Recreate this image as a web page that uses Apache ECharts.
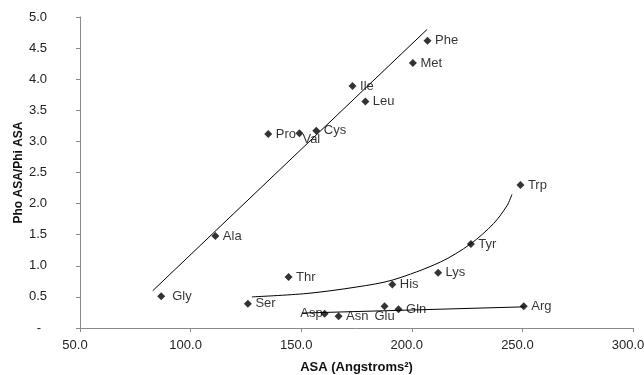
<!DOCTYPE html>
<html>
<head>
<meta charset="utf-8">
<script src="https://cdn.jsdelivr.net/npm/echarts@6/dist/echarts.min.js"></script>
<style>
html,body{margin:0;padding:0;background:#fff;}
#chart{width:644px;height:375px;}
</style>
</head>
<body>
<div id="chart"></div>
<script>
// ---- data ----
const aminoAcids = ['Gly','Ala','Ser','Pro','Thr','Val','Cys','Asp','Asn','Ile','Leu','Glu','His','Gln','Met','Lys','Phe','Tyr','Arg','Trp'];
const asaValues  = [86.7,111.2,125.9,135.1,144.3,149.2,156.8,160.6,166.9,173.2,179.0,187.7,191.2,194.0,200.5,211.9,207.1,226.7,250.6,249.1];
const ratioValues= [0.51,1.48,0.39,3.12,0.82,3.13,3.17,0.23,0.19,3.89,3.64,0.35,0.70,0.30,4.26,0.89,4.62,1.35,0.35,2.30];

// linear trend (hydrophobic group)
const trend1X = [82.9, 206.9];
const trend1Y = [0.60, 4.80];
// curved trend (Ser/Thr/His/Lys/Tyr/Trp group)
const trend2X = [127.7,152.6,175.2,191.2,212.9,226.5,237.0,243.1,245.3];
const trend2Y = [0.50,0.555,0.66,0.77,1.06,1.35,1.68,1.97,2.15];
// flat trend (charged/polar group)
const trend3X = [150.3, 250.6];
const trend3Y = [0.24, 0.34];

const xTicks = {min:50, max:300, step:50};
const yTicks = {min:0, max:5, step:0.5};

// ---- label placement (styling, not data) ----
const labelOverrides = {
  Val: {position:[7,4]},
  Asp: {position:'left', distance:-2},
  Glu: {position:'bottom', distance:0},
  Gly: {position:'right', distance:7}
};

const FONT = '"Liberation Sans", Arial, sans-serif';

const pointData = aminoAcids.map((n,i) => {
  const d = {name:n, value:[asaValues[i], ratioValues[i]]};
  if (labelOverrides[n]) d.label = labelOverrides[n];
  return d;
});
const zip = (a,b) => a.map((v,i)=>[v,b[i]]);

const chart = echarts.init(document.getElementById('chart'), null, {renderer:'canvas'});
chart.setOption({
  animation:false,
  backgroundColor:'#ffffff',
  grid:{left:80, right:11, top:17, bottom:47, containLabel:false, outerBoundsMode:'none'},
  xAxis:{
    type:'value', min:xTicks.min, max:xTicks.max, interval:xTicks.step,
    name:'ASA (Angstroms²)', nameLocation:'middle', nameGap:33, nameMoveOverlap:false,
    nameTextStyle:{fontFamily:FONT, fontSize:13, fontWeight:'bold', color:'#111'},
    axisLine:{show:true, lineStyle:{color:'#8a8a8a', width:1}},
    axisTick:{show:true, inside:false, length:4, lineStyle:{color:'#8a8a8a'}},
    axisLabel:{fontFamily:FONT, fontSize:13, color:'#222', margin:11, padding:[0,10,0,0],
      formatter:v=>v.toFixed(1)},
    splitLine:{show:false}
  },
  yAxis:{
    type:'value', min:yTicks.min, max:yTicks.max, interval:yTicks.step,
    name:'Pho ASA/Phi ASA', nameLocation:'middle', nameGap:55, nameRotate:90, nameMoveOverlap:false,
    nameTextStyle:{fontFamily:FONT, fontSize:12, fontWeight:'bold', color:'#111'},
    axisLine:{show:true, lineStyle:{color:'#8a8a8a', width:1}},
    axisTick:{show:true, inside:false, length:4, lineStyle:{color:'#8a8a8a'}},
    axisLabel:{fontFamily:FONT, fontSize:13, color:'#222', margin:33,
      formatter:v=> v===0 ? '{d|-}' : v.toFixed(1),
      rich:{d:{fontFamily:FONT, fontSize:13, color:'#222', padding:[0,6,0,0]}}},
    splitLine:{show:false}
  },
  series:[
    {type:'line', data:zip(trend1X,trend1Y), showSymbol:false, symbol:'none',
     lineStyle:{color:'#000', width:1}, silent:true, z:1},
    {type:'line', data:zip(trend2X,trend2Y), showSymbol:false, symbol:'none',
     smooth:0.3,
     lineStyle:{color:'#000', width:1}, silent:true, z:1},
    {type:'line', data:zip(trend3X,trend3Y), showSymbol:false, symbol:'none',
     lineStyle:{color:'#000', width:1}, silent:true, z:1},
    {type:'scatter', data:pointData, symbol:'diamond', symbolSize:8,
     itemStyle:{color:'#000'}, z:3,
     label:{show:true, position:'right', distance:3.5, formatter:p=>p.name,
       fontFamily:FONT, fontSize:13, color:'#000'}}
  ]
});
</script>
</body>
</html>
